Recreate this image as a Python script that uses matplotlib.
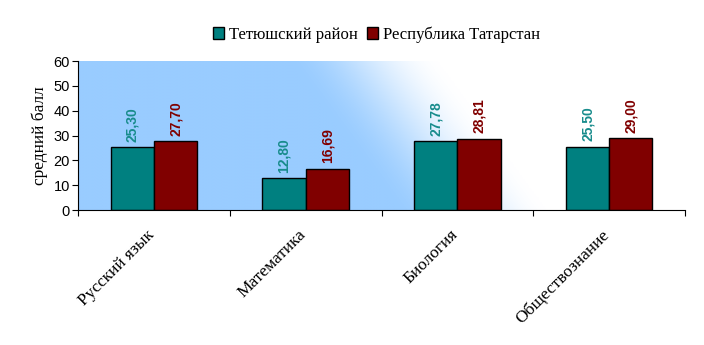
import numpy as np
import matplotlib.pyplot as plt
from matplotlib.colors import LinearSegmentedColormap

# Средние баллы по предметам
predmety = ['Русский язык', 'Математика', 'Биология', 'Обществознание']
tetyushi = [25.30, 12.80, 27.78, 25.50]
tatarstan = [27.70, 16.69, 28.81, 29.00]
serii = ['Тетюшский район', 'Республика Татарстан']

teal = '#008080'
maroon = '#800000'
serif = ['Liberation Serif', 'DejaVu Serif']
sans = ['Liberation Sans', 'DejaVu Sans']

fig = plt.figure(figsize=(7.04, 3.45), dpi=100)
ax = fig.add_axes([0.111, 0.391, 0.862, 0.432])

x = np.arange(len(predmety))
w = 0.285

# фон: голубой слева внизу, белый справа вверху
gx, gy = np.meshgrid(np.linspace(0, 1, 400), np.linspace(0, 1, 200))
s = gx + 0.18 * (1 - gy)
t = np.clip((s - 0.52) / 0.26, 0, 1)
t = t * t * (3 - 2 * t)
fon = LinearSegmentedColormap.from_list('fon', ['#99ccff', '#ffffff'])
ax.imshow(t, cmap=fon, extent=[-0.5, len(predmety) - 0.5, 0, 60],
          aspect='auto', zorder=0, origin='upper', interpolation='bilinear')

b1 = ax.bar(x - w / 2, tetyushi, w, color=teal, edgecolor='black', linewidth=1,
            label=serii[0], zorder=2)
b2 = ax.bar(x + w / 2, tatarstan, w, color=maroon, edgecolor='black', linewidth=1,
            label=serii[1], zorder=2)

for bars, vals, c in [(b1, tetyushi, '#188c8c'), (b2, tatarstan, maroon)]:
    for b, v in zip(bars, vals):
        ax.annotate(f'{v:.2f}'.replace('.', ','),
                    (b.get_x() + b.get_width() / 2, v), xytext=(0, 4),
                    textcoords='offset points', rotation=90, ha='center',
                    va='bottom', color=c, fontsize=10, fontweight='bold',
                    family=sans)

ax.set_xlim(-0.5, len(predmety) - 0.5)
ax.set_ylim(0, 60)
ax.set_yticks(range(0, 61, 10))
ax.tick_params(axis='y', labelsize=10.5, length=4, pad=2)
for lbl in ax.get_yticklabels():
    lbl.set_family(sans)
ax.set_xticks(np.arange(-0.5, len(predmety)), minor=False)
ax.set_xticklabels([])
ax.set_xticks(x - 0.05, minor=True)
ax.set_xticklabels(predmety, minor=True, rotation=45, ha='right',
                   rotation_mode='anchor', fontsize=12.5, family=serif)
ax.tick_params(axis='x', which='major', length=4)
ax.tick_params(axis='x', which='minor', length=0, pad=12)

ax.set_ylabel('средний балл', fontsize=12.5, family=serif, labelpad=4)
for sp in ['top', 'right']:
    ax.spines[sp].set_visible(False)

fig.legend(handles=[b1, b2], labels=serii, loc='center', ncol=2,
           bbox_to_anchor=(0.535, 0.9), frameon=False, handlelength=0.7,
           handleheight=0.7, handletextpad=0.3, columnspacing=0.5,
           prop={'family': serif, 'size': 12})

fig.savefig('out.png', dpi=100)
